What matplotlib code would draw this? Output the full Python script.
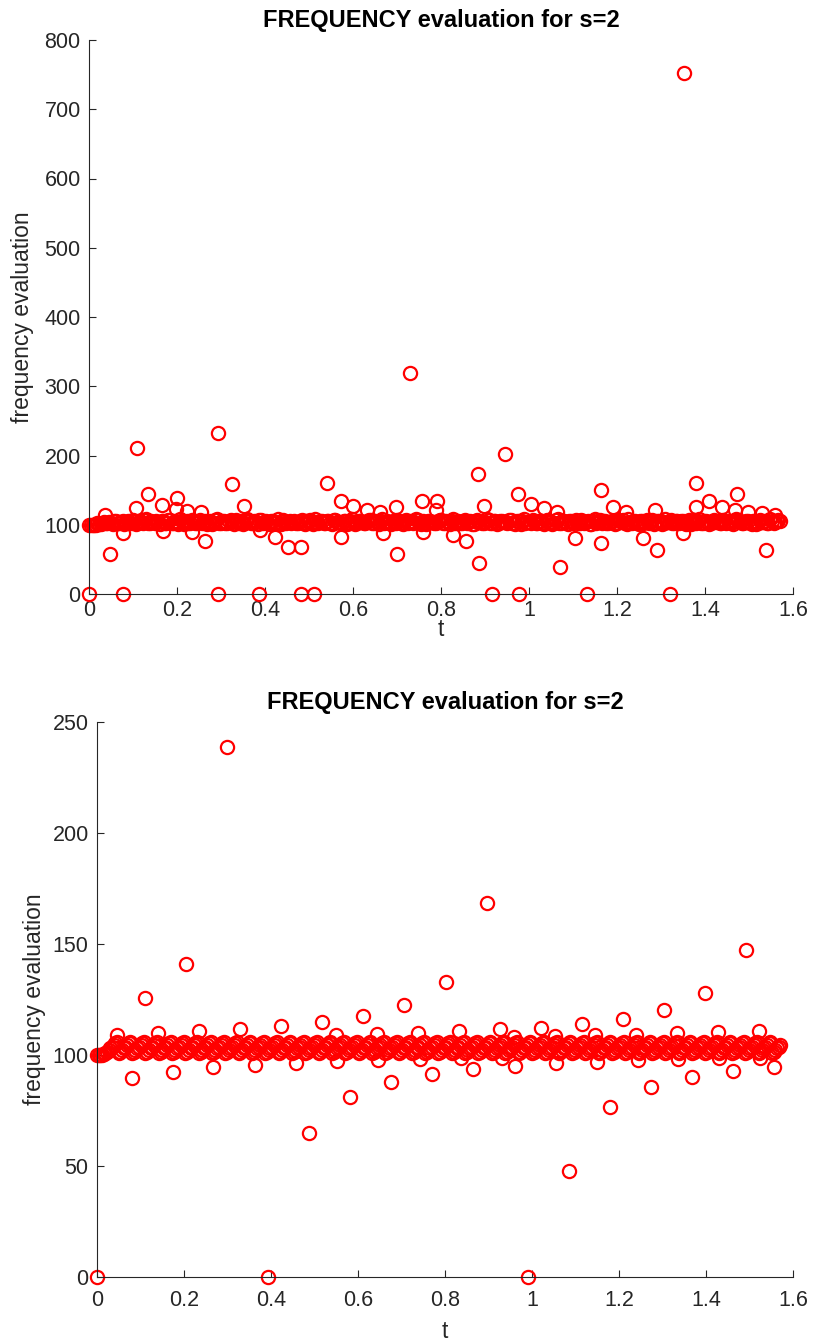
import matplotlib
matplotlib.use("Agg")
import matplotlib.pyplot as plt

plt.rcParams['font.family'] = ['Liberation Sans', 'DejaVu Sans']

# shared sample times (0 .. pi/2)
t = [0, .008, .015, .023, .031, .038, .046, .054, .061, .069,
     .077, .084, .092, .100, .107, .115, .123, .130, .138, .146,
     .153, .161, .169, .176, .184, .192, .199, .207, .215, .222,
     .230, .238, .245, .253, .261, .268, .276, .284, .291, .299,
     .306, .314, .322, .329, .337, .345, .352, .360, .368, .375,
     .383, .391, .398, .406, .414, .421, .429, .437, .444, .452,
     .460, .467, .475, .483, .490, .498, .506, .513, .521, .529,
     .536, .544, .552, .559, .567, .575, .582, .590, .598, .605,
     .613, .621, .628, .636, .644, .651, .659, .667, .674, .682,
     .690, .697, .705, .713, .720, .728, .736, .743, .751, .759,
     .766, .774, .782, .789, .797, .805, .812, .820, .828, .835,
     .843, .851, .858, .866, .874, .881, .889, .897, .904, .912,
     .920, .927, .935, .943, .950, .958, .966, .973, .981, .989,
     .996, 1.004, 1.011, 1.019, 1.027, 1.034, 1.042, 1.050, 1.057, 1.065,
     1.073, 1.080, 1.088, 1.096, 1.103, 1.111, 1.119, 1.126, 1.134, 1.142,
     1.149, 1.157, 1.165, 1.172, 1.180, 1.188, 1.195, 1.203, 1.211, 1.218,
     1.226, 1.234, 1.241, 1.249, 1.257, 1.264, 1.272, 1.280, 1.287, 1.295,
     1.303, 1.310, 1.318, 1.326, 1.333, 1.341, 1.349, 1.356, 1.364, 1.372,
     1.379, 1.387, 1.395, 1.402, 1.410, 1.418, 1.425, 1.433, 1.441, 1.448,
     1.456, 1.464, 1.471, 1.479, 1.487, 1.494, 1.502, 1.510, 1.517, 1.525,
     1.532, 1.540, 1.548, 1.556, 1.563, 1.571]

# second set of sample times (between the ones above)
t_mid = [.004, .011, .019, .027, .034, .042, .050, .057, .065, .073,
         .080, .088, .096, .103, .111, .119, .126, .134, .142, .149,
         .157, .165, .172, .180, .188, .195, .203, .211, .218, .226,
         .234, .241, .249, .257, .264, .272, .280, .287, .295, .303,
         .310, .318, .326, .333, .341, .349, .356, .364, .372, .379,
         .387, .395, .402, .410, .418, .425, .433, .441, .448, .456,
         .464, .471, .479, .487, .494, .502, .510, .517, .525, .533,
         .540, .548, .556, .563, .571, .579, .586, .594, .602, .609,
         .617, .625, .632, .640, .648, .655, .663, .671, .678, .686,
         .694, .701, .709, .716, .724, .732, .739, .747, .755, .762,
         .770, .778, .785, .793, .801, .808, .816, .824, .831, .839,
         .847, .854, .862, .870, .877, .885, .893, .900, .908, .916,
         .923, .931, .939, .946, .954, .962, .969, .977, .985, .992,
         1.000, 1.008, 1.015, 1.023, 1.030, 1.038, 1.046, 1.053, 1.061, 1.069,
         1.076, 1.084, 1.092, 1.099, 1.107, 1.115, 1.122, 1.130, 1.138, 1.145,
         1.153, 1.161, 1.168, 1.176, 1.184, 1.191, 1.199, 1.207, 1.214, 1.222,
         1.230, 1.237, 1.245, 1.253, 1.260, 1.268, 1.276, 1.283, 1.291, 1.299,
         1.306, 1.314, 1.322, 1.329, 1.337, 1.345, 1.352, 1.360, 1.368, 1.375,
         1.383, 1.391, 1.398, 1.406, 1.414, 1.421, 1.429, 1.437, 1.444, 1.452,
         1.460, 1.467, 1.475, 1.483, 1.490, 1.498, 1.506, 1.513, 1.521, 1.529,
         1.536, 1.544, 1.552, 1.559, 1.567]

# top panel: main band values at t
top_band = [100, 100, 100, 101, 103, 102, 104, 101, 105, 103,
            106, 102, 104, 107, 101, 105, 103, 108, 102, 104,
            106, 101, 105, 103, 107, 102, 104, 108, 101, 106,
            103, 105, 102, 107, 104, 101, 106, 103, 108, 102,
            105, 103, 107, 101, 104, 106, 102, 108, 103, 105,
            101, 107, 104, 102, 106, 103, 108, 101, 105, 104,
            102, 106, 103, 107, 101, 105, 104, 108, 102, 106,
            103, 105, 101, 107, 104, 102, 106, 103, 108, 101,
            105, 104, 102, 107, 103, 106, 101, 108, 104, 102,
            106, 103, 105, 101, 107, 104, 102, 108, 103, 105,
            101, 106, 104, 102, 107, 103, 105, 101, 108, 104,
            102, 106, 103, 105, 101, 107, 104, 102, 108, 103,
            105, 101, 106, 104, 102, 107, 103, 105, 101, 108,
            104, 102, 106, 103, 105, 101, 107, 104, 102, 108,
            103, 105, 101, 106, 104, 102, 107, 103, 105, 101,
            108, 104, 102, 106, 103, 105, 101, 107, 104, 102,
            108, 103, 105, 101, 106, 104, 102, 107, 103, 105,
            101, 108, 104, 102, 106, 103, 105, 101, 107, 104,
            102, 108, 103, 105, 101, 106, 104, 102, 107, 103,
            105, 101, 108, 104, 102, 106, 103, 105, 101, 107,
            104, 102, 108, 103, 105, 106]

# top panel: main band values at t_mid
top_band_mid = [100, 100, 102, 101, 104, 102, 103, 105, 102, 104,
                101, 105, 103, 106, 102, 104, 107, 103, 105, 102,
                104, 106, 102, 107, 103, 105, 101, 106, 104, 102,
                107, 103, 105, 102, 106, 104, 101, 107, 103, 105,
                102, 106, 104, 107, 103, 101, 105, 106, 102, 104,
                107, 103, 105, 101, 106, 104, 102, 107, 103, 105,
                104, 102, 106, 103, 105, 107, 101, 104, 106, 103,
                105, 102, 107, 104, 103, 106, 101, 105, 104, 102,
                106, 103, 105, 107, 102, 104, 106, 103, 105, 101,
                104, 107, 103, 106, 102, 105, 104, 107, 101, 103,
                106, 104, 102, 105, 107, 103, 104, 106, 102, 105,
                103, 107, 104, 101, 106, 105, 102, 104, 107, 103,
                106, 102, 105, 104, 107, 103, 101, 106, 105, 102,
                104, 107, 103, 106, 102, 105, 104, 101, 107, 103,
                105, 104, 106, 102, 107, 103, 105, 104, 101, 106,
                103, 107, 105, 102, 104, 106, 103, 105, 107, 101,
                104, 106, 102, 105, 103, 107, 104, 101, 106, 105,
                103, 104, 107, 102, 105, 106, 103, 104, 101, 107,
                105, 103, 106, 104, 102, 107, 105, 103, 104, 106,
                102, 105, 107, 103, 104, 106, 101, 105, 103, 104,
                106, 103, 105, 104, 107]

# top panel: scattered points off the band
top_out_t = [0, 0.077, 0.293, 0.386, 0.482, 0.511, 0.916, 0.977, 1.132, 1.320,
             0.109, 0.293, 0.325, 0.540, 0.730, 0.884, 0.945, 1.352, 1.164, 1.380,
             1.473, 0.975, 0.134, 0.200, 0.166, 0.107, 0.198, 0.352, 0.223, 0.255,
             0.036, 0.573, 0.757, 0.790, 1.005, 0.600, 0.697, 1.034, 1.064, 0.898,
             0.632, 0.789, 0.661, 1.409, 1.439, 1.380, 1.191, 1.468, 1.286, 1.220,
             1.498, 1.530, 1.559,
             0.048, 0.077, 0.168, 0.264, 0.423, 0.452, 0.482, 0.234, 0.389, 0.573,
             0.668, 0.700, 0.857, 0.886, 1.070, 0.827, 0.759, 1.105, 1.164, 1.259,
             1.291, 1.350, 1.539]
top_out_v = [0, 0, 0, 0, 0, 0, 0, 0, 0, 0,
             211, 232, 159, 160, 319, 173, 202, 752, 150, 160,
             144, 144, 144, 139, 128, 124, 123, 127, 120, 118,
             114, 134, 134, 134, 130, 127, 125, 124, 118, 127,
             121, 122, 118, 134, 126, 126, 126, 121, 121, 118,
             118, 117, 114,
             58, 88, 91, 76, 82, 68, 68, 89, 92, 82,
             88, 58, 76, 45, 39, 85, 89, 81, 74, 81,
             63, 88, 63]

# bottom panel: main band values at t
bot_band = [100, 100, 100.4, 101.5, 103, 104.5, 106, 101.5, 103, 104.5,
            106, 101.5, 103, 104.5, 106, 101.5, 103, 104.5, 106, 101.5,
            103, 104.5, 106, 101.5, 103, 104.5, 106, 101.5, 103, 104.5,
            106, 101.5, 103, 104.5, 106, 101.5, 103, 104.5, 106, 101.5,
            103, 104.5, 106, 101.5, 103, 104.5, 106, 101.5, 103, 104.5,
            106, 101.5, 103, 104.5, 106, 101.5, 103, 104.5, 106, 101.5,
            103, 104.5, 106, 101.5, 103, 104.5, 106, 101.5, 103, 104.5,
            106, 101.5, 103, 104.5, 106, 101.5, 103, 104.5, 106, 101.5,
            103, 104.5, 106, 101.5, 103, 104.5, 106, 101.5, 103, 104.5,
            106, 101.5, 103, 104.5, 106, 101.5, 103, 104.5, 106, 101.5,
            103, 104.5, 106, 101.5, 103, 104.5, 106, 101.5, 103, 104.5,
            106, 101.5, 103, 104.5, 106, 101.5, 103, 104.5, 106, 101.5,
            103, 104.5, 106, 101.5, 103, 104.5, 106, 101.5, 103, 104.5,
            106, 101.5, 103, 104.5, 106, 101.5, 103, 104.5, 106, 101.5,
            103, 104.5, 106, 101.5, 103, 104.5, 106, 101.5, 103, 104.5,
            106, 101.5, 103, 104.5, 106, 101.5, 103, 104.5, 106, 101.5,
            103, 104.5, 106, 101.5, 103, 104.5, 106, 101.5, 103, 104.5,
            106, 101.5, 103, 104.5, 106, 101.5, 103, 104.5, 106, 101.5,
            103, 104.5, 106, 101.5, 103, 104.5, 106, 101.5, 103, 104.5,
            106, 101.5, 103, 104.5, 106, 101.5, 103, 104.5, 106, 101.5,
            103, 104.5, 106, 101.5, 103, 104.5]

# bottom panel: main band values at t_mid
bot_band_mid = [100, 100.2, 100.8, 102.3, 103.8, 105.3, 100.8, 102.3, 103.8, 105.3,
                100.8, 102.3, 103.8, 105.3, 100.8, 102.3, 103.8, 105.3, 100.8, 102.3,
                103.8, 105.3, 100.8, 102.3, 103.8, 105.3, 100.8, 102.3, 103.8, 105.3,
                100.8, 102.3, 103.8, 105.3, 100.8, 102.3, 103.8, 105.3, 100.8, 102.3,
                103.8, 105.3, 100.8, 102.3, 103.8, 105.3, 100.8, 102.3, 103.8, 105.3,
                100.8, 102.3, 103.8, 105.3, 100.8, 102.3, 103.8, 105.3, 100.8, 102.3,
                103.8, 105.3, 100.8, 102.3, 103.8, 105.3, 100.8, 102.3, 103.8, 105.3,
                100.8, 102.3, 103.8, 105.3, 100.8, 102.3, 103.8, 105.3, 100.8, 102.3,
                103.8, 105.3, 100.8, 102.3, 103.8, 105.3, 100.8, 102.3, 103.8, 105.3,
                100.8, 102.3, 103.8, 105.3, 100.8, 102.3, 103.8, 105.3, 100.8, 102.3,
                103.8, 105.3, 100.8, 102.3, 103.8, 105.3, 100.8, 102.3, 103.8, 105.3,
                100.8, 102.3, 103.8, 105.3, 100.8, 102.3, 103.8, 105.3, 100.8, 102.3,
                103.8, 105.3, 100.8, 102.3, 103.8, 105.3, 100.8, 102.3, 103.8, 105.3,
                100.8, 102.3, 103.8, 105.3, 100.8, 102.3, 103.8, 105.3, 100.8, 102.3,
                103.8, 105.3, 100.8, 102.3, 103.8, 105.3, 100.8, 102.3, 103.8, 105.3,
                100.8, 102.3, 103.8, 105.3, 100.8, 102.3, 103.8, 105.3, 100.8, 102.3,
                103.8, 105.3, 100.8, 102.3, 103.8, 105.3, 100.8, 102.3, 103.8, 105.3,
                100.8, 102.3, 103.8, 105.3, 100.8, 102.3, 103.8, 105.3, 100.8, 102.3,
                103.8, 105.3, 100.8, 102.3, 103.8, 105.3, 100.8, 102.3, 103.8, 105.3,
                100.8, 102.3, 103.8, 105.3, 100.8, 102.3, 103.8, 105.3, 100.8, 102.3,
                103.8, 105.3, 100.8, 102.3, 103.8]

# bottom panel: scattered points off the band
bot_out_t = [0.0,
             0.046, 0.140, 0.234, 0.329, 0.423, 0.517, 0.612, 0.706, 0.802, 0.897,
             0.991, 1.085, 1.179, 1.274, 1.368, 1.462, 1.556,
             0.080, 0.175, 0.267, 0.363, 0.457, 0.552, 0.646, 0.742, 0.836, 0.930,
             0.110, 0.205, 0.299, 0.393, 0.487, 0.582, 0.676, 0.770, 0.864, 0.961,
             1.055, 1.149, 1.243, 1.336, 1.430, 1.524,
             0.549, 0.644, 0.738, 0.832, 0.926, 1.020, 1.115, 1.209, 1.303, 1.398, 1.492,
             0.958, 1.053, 1.145, 1.239, 1.333, 1.428, 1.522]
bot_out_v = [0,
             109, 110, 110.8, 111.7, 113, 115, 117.6, 122.5, 132.9, 168.5,
             0, 47.7, 76.6, 85.6, 90, 92.8, 94.6,
             89.6, 92.3, 94.6, 95.5, 96.4, 97.3, 97.7, 98.2, 98.5, 98.8,
             125.7, 141, 238.7, 0, 64.9, 81, 87.8, 91.4, 93.7, 95,
             96.4, 96.8, 97.7, 98.2, 98.5, 98.8,
             109, 109.5, 110, 110.8, 111.7, 112.2, 114, 116.2, 120.3, 127.9, 147.3,
             108, 108.5, 108.8, 109.2, 109.8, 110.3, 110.8]

title_text = "FREQUENCY evaluation for s=2"
x_ticks = [0, 0.2, 0.4, 0.6, 0.8, 1.0, 1.2, 1.4, 1.6]
x_tick_labels = ["0", "0.2", "0.4", "0.6", "0.8", "1", "1.2", "1.4", "1.6"]
top_y_ticks = [0, 100, 200, 300, 400, 500, 600, 700, 800]
bot_y_ticks = [0, 50, 100, 150, 200, 250]

W, H = 817, 1341
fig = plt.figure(figsize=(W / 100, H / 100), dpi=100)

ax1 = fig.add_axes([89 / W, 1 - 594 / H, (793 - 89) / W, (594 - 40) / H])
ax2 = fig.add_axes([97 / W, 1 - 1277 / H, (793 - 97) / W, (1277 - 722) / H])

dark = '#262626'
mk = dict(linestyle='none', marker='o', markersize=9.5, markerfacecolor='none',
          markeredgecolor='#ff0000', markeredgewidth=1.6, clip_on=False)

panels = [
    (ax1, top_band, top_band_mid, top_out_t, top_out_v, top_y_ticks, (0, 800),
     4, (-0.094, 0.5), (0.5, -0.064)),
    (ax2, bot_band, bot_band_mid, bot_out_t, bot_out_v, bot_y_ticks, (0, 250),
     9, (-0.090, 0.5), (0.5, -0.099)),
]
for ax, bv, bvm, ot, ov, yt, ylim, xpad, ylab_xy, xlab_xy in panels:
    ax.plot(t, bv, **mk)
    ax.plot(t_mid, bvm, **mk)
    ax.plot(ot, ov, **mk)
    ax.set_xlim(0, 1.6)
    ax.set_ylim(*ylim)
    ax.set_xticks(x_ticks)
    ax.set_xticklabels(x_tick_labels)
    ax.set_yticks(yt)
    for s in ['top', 'right']:
        ax.spines[s].set_visible(False)
    for s in ['left', 'bottom']:
        ax.spines[s].set_color(dark)
        ax.spines[s].set_linewidth(0.8)
    ax.tick_params(direction='in', length=5, width=0.8, colors=dark,
                   labelsize=15.5)
    ax.tick_params(axis='x', pad=xpad)
    ax.tick_params(axis='y', pad=6)
    ax.set_xlabel('t', fontsize=16.5, color=dark, va='center')
    ax.set_ylabel('frequency evaluation', fontsize=16.5, color=dark, va='center')
    ax.yaxis.set_label_coords(*ylab_xy)
    ax.xaxis.set_label_coords(*xlab_xy)
    ax.set_title(title_text, fontsize=17, fontweight='bold', color='black', pad=9)

fig.savefig('out.png', dpi=100)
